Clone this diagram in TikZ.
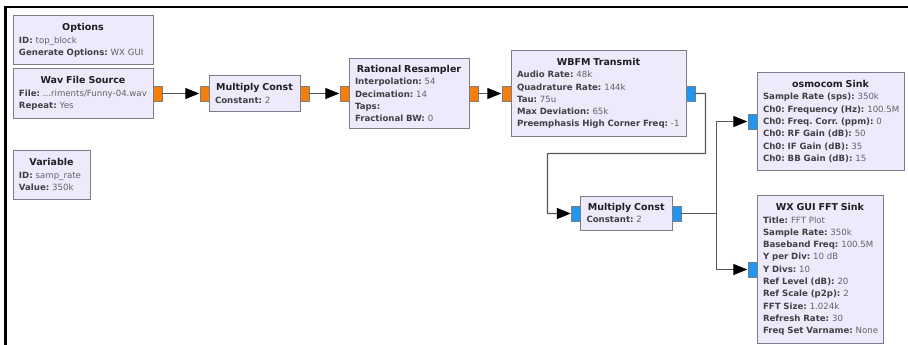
\documentclass[tikz,border=0pt]{standalone}
\usepackage{fontspec}
\setmainfont{DejaVu Sans}
\usetikzlibrary{arrows.meta}
\definecolor{boxfill}{HTML}{EEEAFC}
\definecolor{boxline}{HTML}{7C7C84}
\definecolor{valtext}{HTML}{62626A}
\definecolor{titletext}{HTML}{1E1E24}
\definecolor{orangeport}{HTML}{F57F0A}
\definecolor{blueport}{HTML}{2196F0}
\definecolor{wire}{HTML}{58585C}
\newcommand{\fld}[2]{\mbox{{\bfseries\color{titletext!85!white}#1:} {\color{valtext}#2}}}
\newcommand{\blockbox}[7]{%
  \pgfmathsetmacro{\cx}{#2+#4/2}\pgfmathsetmacro{\cy}{#3+#5/2}\pgfmathsetmacro{\tw}{#4-12}%
  \node[blockstyle,minimum width=#4pt,minimum height=#5pt,text width=\tw pt] (#1) at (\cx,\cy)
    {\frenchspacing{\centering\fontsize{9.5}{12.3}\selectfont\bfseries\color{titletext}\mbox{#6}\par}\raggedright #7\par};}
\newcommand{\portbox}[5]{\node[portstyle,fill=#5] (#1) at (#2,#3) {};}
\tikzset{
  blockstyle/.style={draw=boxline,fill=boxfill,line width=1pt,inner xsep=6pt,inner ysep=0pt,
    font=\fontsize{8.6}{12.3}\selectfont},
  portstyle/.style={draw=boxline,line width=0.4pt,minimum width=9pt,minimum height=15.5pt,inner sep=0pt},
  link/.style={draw=wire,line width=1.1pt},
  linkarrow/.style={link,-{Triangle[length=14pt,width=11pt,fill=black,color=black]},shorten >=0.5pt}
}
\begin{document}
\begin{tikzpicture}[x=1pt,y=-1pt]
\useasboundingbox (0,0) rectangle (908,345);
\fill[white] (0,0) rectangle (908,345);
\draw[black,line width=2.4pt] (5.5,345) -- (5.5,7) -- (908,7);

\blockbox{options}{13}{16}{140}{49}{Options}{\fld{ID}{top\_block}\\\fld{Generate Options}{WX GUI}}
\blockbox{wav}{13}{69}{140}{49}{Wav File Source}{\fld{File}{...riments/Funny-04.wav}\\\fld{Repeat}{Yes}}
\blockbox{variable}{13}{150}{77}{49}{Variable}{\fld{ID}{samp\_rate}\\\fld{Value}{350k}}
\blockbox{mulone}{209}{76}{91}{35}{Multiply Const}{\fld{Constant}{2}}
\blockbox{resamp}{349}{58.5}{120}{70}{Rational Resampler}{\fld{Interpolation}{54}\\\fld{Decimation}{14}\\\fld{Taps}{}\\\fld{Fractional BW}{0}}
\blockbox{wbfm}{511}{51}{175}{85}{WBFM Transmit}{\fld{Audio Rate}{48k}\\\fld{Quadrature Rate}{144k}\\\fld{Tau}{75u}\\\fld{Max Deviation}{65k}\\\fld{Preemphasis High Corner Freq}{-1}}
\blockbox{multwo}{580.5}{196}{91.5}{34.5}{Multiply Const}{\fld{Constant}{2}}
\blockbox{osmo}{757}{73}{147}{97}{osmocom Sink}{\fld{Sample Rate (sps)}{350k}\\\fld{Ch0: Frequency (Hz)}{100.5M}\\\fld{Ch0: Freq. Corr. (ppm)}{0}\\\fld{Ch0: RF Gain (dB)}{50}\\\fld{Ch0: IF Gain (dB)}{35}\\\fld{Ch0: BB Gain (dB)}{15}}
\blockbox{fft}{757}{195.5}{126}{148}{WX GUI FFT Sink}{\fld{Title}{FFT Plot}\\\fld{Sample Rate}{350k}\\\fld{Baseband Freq}{100.5M}\\\fld{Y per Div}{10 dB}\\\fld{Y Divs}{10}\\\fld{Ref Level (dB)}{20}\\\fld{Ref Scale (p2p)}{2}\\\fld{FFT Size}{1.024k}\\\fld{Refresh Rate}{30}\\\fld{Freq Set Varname}{None}}

\portbox{wavout}{157.5}{93.5}{}{orangeport}
\portbox{moneIn}{204.5}{93.5}{}{orangeport}
\portbox{moneOut}{304.5}{93.5}{}{orangeport}
\portbox{rsIn}{344.5}{93.5}{}{orangeport}
\portbox{rsOut}{473.5}{93.5}{}{orangeport}
\portbox{wbIn}{506.5}{93.5}{}{orangeport}
\portbox{wbOut}{690.5}{93.5}{}{blueport}
\portbox{mtwoIn}{576}{213.5}{}{blueport}
\portbox{mtwoOut}{676.5}{213.5}{}{blueport}
\portbox{osIn}{752.5}{121.5}{}{blueport}
\portbox{fftIn}{752.5}{269.5}{}{blueport}

\coordinate (bendA) at (705.5,153.5);
\coordinate (bendB) at (547.5,153.5);
\coordinate (split) at (716.5,213.5);

\draw[linkarrow] (wavout.east) -- (moneIn.west);
\draw[linkarrow] (moneOut.east) -- (rsIn.west);
\draw[linkarrow] (rsOut.east) -- (wbIn.west);
\draw[linkarrow,rounded corners=0.5pt] (wbOut.east) -| (bendA) -- (bendB) |- (mtwoIn.west);
\draw[link] (mtwoOut.east) -- (split);
\draw[linkarrow] (split) |- (osIn.west);
\draw[linkarrow] (split) |- (fftIn.west);
\end{tikzpicture}
\end{document}
